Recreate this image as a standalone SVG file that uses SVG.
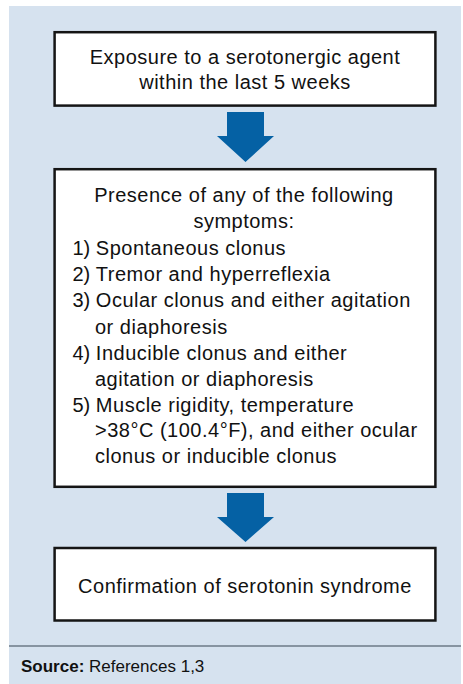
<svg xmlns="http://www.w3.org/2000/svg" width="463" height="684" viewBox="0 0 463 684">
<style>
.box{fill:#ffffff;stroke:#151515;stroke-width:2.5}
.arrow{fill:#0561a4}
.t{font-family:"Liberation Sans",Arial,Helvetica,sans-serif;font-size:20px;fill:#111111;letter-spacing:0.5px}
.n{letter-spacing:0}
.c{text-anchor:middle}
.src{font-family:"Liberation Sans",Arial,Helvetica,sans-serif;font-size:17px;fill:#111111}
</style>
<rect x="9" y="6" width="452" height="678" fill="#d6e2ef"/>
<line x1="9" y1="646" x2="461" y2="646" stroke="#6d7a87" stroke-width="1.5"/>
<g id="connectors">
<polygon class="arrow" points="227,112 264,112 264,136 274,136 245.5,162 217,136 227,136"/>
<polygon class="arrow" points="227,493 264,493 264,517 274,517 245.5,542 217,517 227,517"/>
</g>
<g id="node-exposure">
<rect class="box" x="54.6" y="32.2" width="380.8" height="73.4"/>
<text class="t c" x="245" y="64">Exposure to a serotonergic agent</text>
<text class="t c" x="245" y="89">within the last 5 weeks</text>
</g>
<g id="node-symptoms">
<rect class="box" x="54.6" y="169.2" width="380.8" height="317.6"/>
<text class="t c" x="244" y="202">Presence of any of the following</text>
<text class="t c" x="244" y="228">symptoms:</text>
<text class="t" x="72.5" y="255"><tspan class="n">1) </tspan>Spontaneous clonus</text>
<text class="t" x="72.5" y="281"><tspan class="n">2) </tspan>Tremor and hyperreflexia</text>
<text class="t" x="72.5" y="307"><tspan class="n">3) </tspan>Ocular clonus and either agitation</text>
<text class="t" x="95" y="334">or diaphoresis</text>
<text class="t" x="72.5" y="360"><tspan class="n">4) </tspan>Inducible clonus and either</text>
<text class="t" x="95" y="386">agitation or diaphoresis</text>
<text class="t" x="72.5" y="412"><tspan class="n">5) </tspan>Muscle rigidity, temperature</text>
<text class="t" x="95" y="437">&gt;38°C (100.4°F), and either ocular</text>
<text class="t" x="95" y="463">clonus or inducible clonus</text>
</g>
<g id="node-confirmation">
<rect class="box" x="54.6" y="548" width="380.8" height="72.5"/>
<text class="t c" x="245" y="593">Confirmation of serotonin syndrome</text>
</g>
<text class="src" x="21" y="672"><tspan font-weight="bold">Source:</tspan> References 1,3</text>
</svg>
